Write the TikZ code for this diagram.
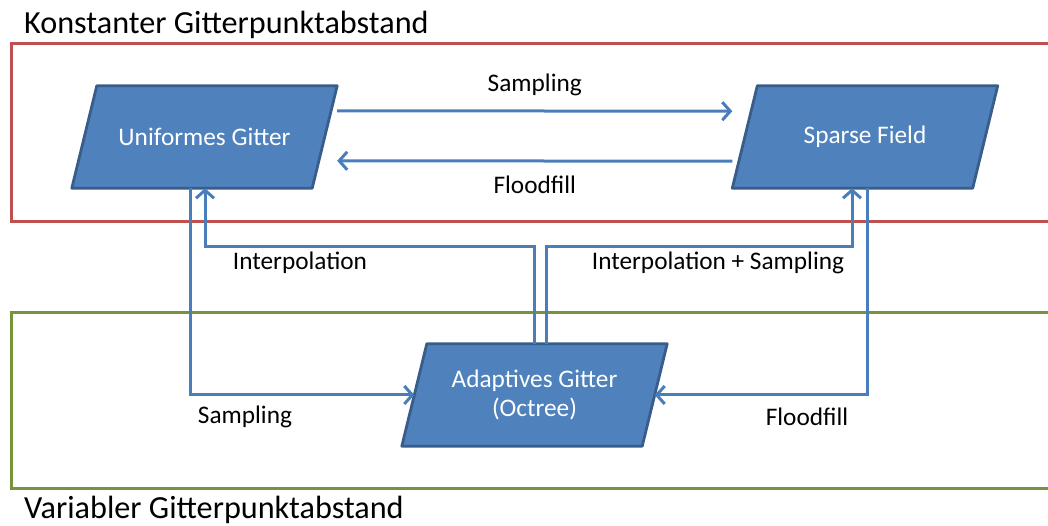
\documentclass[tikz,border=0pt]{standalone}
\usepackage{fontspec}
\setmainfont{Carlito}
\usetikzlibrary{arrows.meta}
\usetikzlibrary{positioning}
\usetikzlibrary{backgrounds}
\definecolor{boxfill}{HTML}{4F81BD}
\definecolor{boxline}{HTML}{385D8A}
\definecolor{flowline}{HTML}{4A7EBB}
\definecolor{constred}{HTML}{C0504D}
\definecolor{vargreen}{HTML}{77933C}
\tikzset{data box/.style={rectangle, minimum width=240pt, minimum height=102pt,
    text=white, align=center, font=\fontsize{25.3}{29.5}\selectfont, inner sep=0pt}}
\tikzset{slant fill/.style={fill=boxfill, draw=boxline, line width=2.8pt, line join=round}}
\tikzset{flow/.style={draw=flowline, line width=3pt, -{Straight Barb[length=8pt,width=18pt]}}}
\tikzset{edge label/.style={font=\fontsize{25.3}{29.5}\selectfont, inner sep=0pt}}
\tikzset{region label/.style={font=\fontsize{32.2}{36}\selectfont, inner sep=0pt, anchor=base west}}
\newcommand{\slantbox}[1]{\path[slant fill] ([xshift=-12.5pt]#1.south west) -- ([xshift=12.5pt]#1.north west) -- ([xshift=12.5pt]#1.north east) -- ([xshift=-12.5pt]#1.south east) -- cycle;}

\begin{document}
\begin{tikzpicture}[x=1pt, y=1pt]
            \useasboundingbox (0,0) rectangle (1048,526);
            \draw[constred, line width=3pt] (11,482) rectangle (1070,304);
            \draw[vargreen, line width=3pt] (11,213) rectangle (1070,37);
            \node[region label] (konst) at (24,492) {Konstanter Gitterpunktabstand};
            \node[region label] (var) at (24,7) {Variabler Gitterpunktabstand};
            \node[data box] (uniform) at (204.5,389) {Uniformes Gitter};
            \node[data box] (sparse) at (865,389) {Sparse Field};
            \node[data box] (octree) at (534.5,131) {Adaptives Gitter\\(Octree)};
            \begin{scope}[on background layer]
                \slantbox{uniform}
                \slantbox{sparse}
                \slantbox{octree}
            \end{scope}
            \draw[flow] ([xshift=12.5pt, yshift=-25pt]uniform.north east) -- node[edge label, above=14pt]{Sampling} ([xshift=-12.5pt, yshift=77pt]sparse.south west);
            \draw[flow] ([xshift=-12.5pt, yshift=27pt]sparse.south west) -- node[edge label, below=13pt]{Floodfill} ([xshift=12.5pt, yshift=-75pt]uniform.north east);
            \draw[flow] (octree.north) -- ++(0,97) -| ([xshift=0.5pt]uniform.south);
            \draw[flow] ([xshift=12pt]octree.north) -- ++(0,97) -| ([xshift=-13pt]sparse.south);
            \draw[flow] ([xshift=-14pt]uniform.south) |- (octree.west);
            \draw[flow] ([xshift=2pt]sparse.south) |- (octree.east);
            \node[edge label] (interp) at (300,263) {Interpolation};
            \node[edge label] (interpsamp) at (718,263) {Interpolation + Sampling};
            \node[edge label] (samp) at (245,109) {Sampling};
            \node[edge label] (flood) at (807,109) {Floodfill};
        \end{tikzpicture}
\end{document}
